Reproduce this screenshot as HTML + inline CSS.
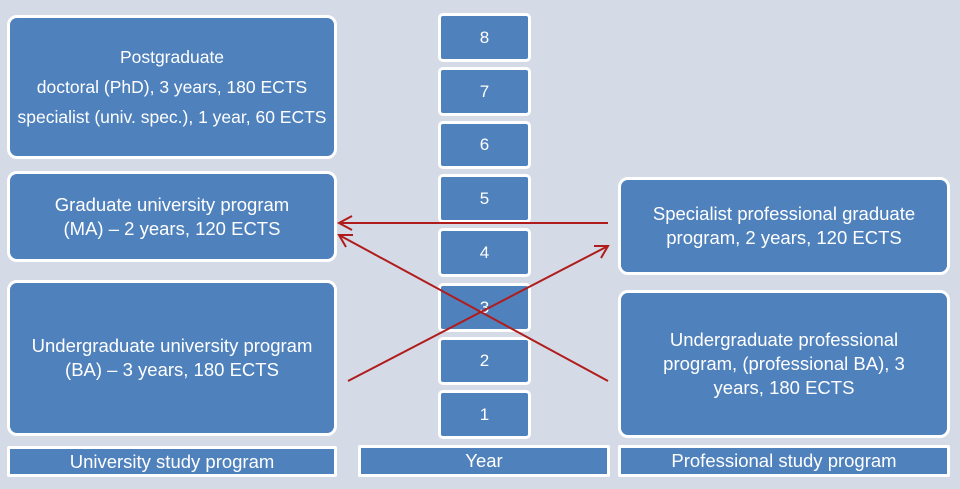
<!DOCTYPE html>
<html><head><style>
body{margin:0;width:960px;height:489px;background:#d4dae6;position:relative;overflow:hidden;font-family:"Liberation Sans",sans-serif;}
.b{position:absolute;box-sizing:border-box;background:#4f81bd;border:3px solid #fff;color:#fff;display:flex;align-items:center;justify-content:center;text-align:center;border-radius:10px;font-size:18.5px;line-height:24px;}
.y{border-radius:5px;font-size:17px;}
.bar{border-radius:2px;font-size:18.5px;line-height:20px;}
svg{position:absolute;left:0;top:0;}
</style></head><body>
<div class="b" style="left:7px;top:15px;width:330px;height:144px;font-size:17.5px;line-height:30px;">Postgraduate<br>doctoral (PhD), 3 years, 180 ECTS<br>specialist (univ. spec.), 1 year, 60 ECTS</div>
<div class="b" style="left:7px;top:171px;width:330px;height:91px;">Graduate university program<br>(MA) – 2 years, 120 ECTS</div>
<div class="b" style="left:7px;top:280px;width:330px;height:156px;">Undergraduate university program<br>(BA) – 3 years, 180 ECTS</div>
<div class="b bar" style="left:7px;top:446px;width:330px;height:31px;">University study program</div>

<div class="b y" style="left:438px;top:13px;width:93px;height:49px;">8</div>
<div class="b y" style="left:438px;top:67px;width:93px;height:49px;">7</div>
<div class="b y" style="left:438px;top:121px;width:93px;height:48px;">6</div>
<div class="b y" style="left:438px;top:174px;width:93px;height:49px;">5</div>
<div class="b y" style="left:438px;top:228px;width:93px;height:49px;">4</div>
<div class="b y" style="left:438px;top:283px;width:93px;height:49px;">3</div>
<div class="b y" style="left:438px;top:337px;width:93px;height:48px;">2</div>
<div class="b y" style="left:438px;top:390px;width:93px;height:49px;">1</div>
<div class="b bar" style="left:358px;top:445px;width:252px;height:32px;">Year</div>

<div class="b" style="left:618px;top:177px;width:332px;height:98px;">Specialist professional graduate<br>program, 2 years, 120 ECTS</div>
<div class="b" style="left:618px;top:290px;width:332px;height:148px;">Undergraduate professional<br>program, (professional BA), 3<br>years, 180 ECTS</div>
<div class="b bar" style="left:618px;top:445px;width:332px;height:32px;">Professional study program</div>

<svg width="960" height="489">
<g stroke="#b01c1c" stroke-width="2" fill="none">
<line x1="608" y1="223" x2="339" y2="223"/>
<polyline points="352,216 339,223 352,230"/>
<line x1="608" y1="381" x2="339" y2="235"/>
<polyline points="353,235 339,235 346,247"/>
<line x1="348" y1="381" x2="608" y2="246"/>
<polyline points="594,246 608,246 601,258"/>
</g>
</svg>
</body></html>
